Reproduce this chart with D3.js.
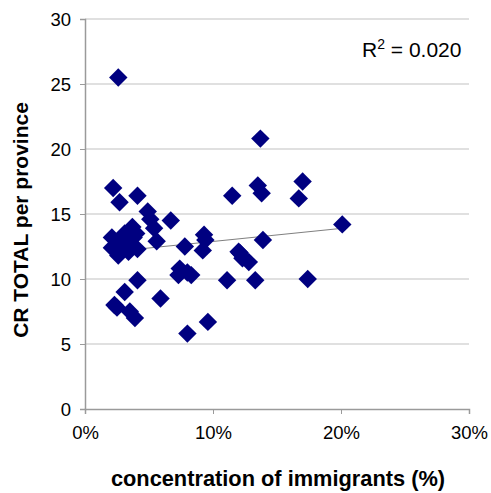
<!DOCTYPE html>
<html>
<head>
<meta charset="utf-8">
<script src="https://cdn.jsdelivr.net/npm/d3@7"></script>
<style>
  body { margin: 0; background: #fff; }
  svg { display: block; font-family: "Liberation Sans", Arial, sans-serif; }
</style>
</head>
<body>
<svg id="chart" width="491" height="493"></svg>
<script>
// immigrants share (%) per province
const immigrants = [
  2.6, 13.7, 17.0, 16.7, 13.5, 13.8, 11.5, 20.1, 13.9, 13.3,
  17.4, 12.0, 12.3, 12.8, 11.1, 2.2, 2.7, 4.1, 4.9, 5.1,
  6.7, 5.4, 5.6, 2.1, 2.1, 2.6, 3.1, 3.7, 3.8, 3.4,
  2.5, 7.8, 9.3, 9.2, 7.4, 7.3, 8.3, 8.0, 4.1, 3.1,
  2.3, 3.5, 3.9, 5.9, 8.0, 9.6, 2.5, 4.0, 3.0, 2.8,
  3.6, 4.1, 9.4, 12.1
];
// CR total per province
const crTotal = [
  25.5, 20.8, 17.5, 16.2, 17.2, 16.6, 16.4, 14.2, 13.0, 9.9,
  10.0, 12.1, 11.6, 11.3, 9.9, 17.0, 15.9, 16.4, 15.2, 14.6,
  14.5, 13.9, 12.9, 13.2, 12.4, 11.8, 13.5, 14.0, 13.2, 12.1,
  12.6, 12.5, 13.4, 12.2, 10.8, 10.3, 10.3, 10.5, 9.9, 9.0,
  8.0, 7.5, 7.0, 8.5, 5.8, 6.7, 7.8, 13.5, 12.8, 12.2,
  12.5, 12.3, 13.0, 12.0
];
const xTicks = [0, 10, 20, 30];
const yTicks = [0, 5, 10, 15, 20, 25, 30];
const trendX = [1.95, 20.1];
const trendY = [12.08, 13.9];
const rSquared = "0.020";

const points = immigrants.map((v, i) => ({ x: v, y: crTotal[i] }));

const svg = d3.select('#chart');
const x = d3.scaleLinear().domain([0, 30]).range([85, 469]);
const y = d3.scaleLinear().domain([0, 30]).range([409, 19]);

// gridlines
svg.append('g')
  .selectAll('line')
  .data(yTicks.filter(d => d > 0))
  .join('line')
  .attr('x1', x(0)).attr('x2', x(30))
  .attr('y1', d => y(d)).attr('y2', d => y(d))
  .attr('stroke', '#d6d6d6')
  .attr('stroke-width', 1.5);

// axes
const yAxis = svg.append('g')
  .attr('transform', `translate(${x(0)},0)`)
  .call(d3.axisLeft(y).tickValues(yTicks).tickSize(5).tickPadding(9).tickFormat(d3.format('d')));
const xAxis = svg.append('g')
  .attr('transform', `translate(0,${y(0)})`)
  .call(d3.axisBottom(x).tickValues(xTicks).tickSize(5).tickPadding(12).tickFormat(d => d + '%'));

[yAxis, xAxis].forEach(a => {
  a.select('.domain').attr('stroke', '#9a9a9a').attr('stroke-width', 1.5);
  a.selectAll('.tick line').attr('stroke', '#9a9a9a');
  a.selectAll('.tick text')
    .attr('fill', '#000')
    .style('font-size', '18.5px')
    .style('font-family', '"Liberation Sans", Arial, sans-serif');
});
yAxis.selectAll('.tick text').attr('dy', '0.36em');

// trend line
svg.append('line')
  .attr('x1', x(trendX[0])).attr('y1', y(trendY[0]))
  .attr('x2', x(trendX[1])).attr('y2', y(trendY[1]))
  .attr('stroke', '#808080')
  .attr('stroke-width', 1);

// markers
const diamond = d3.symbol().type(d3.symbolSquare).size(170);
svg.append('g')
  .selectAll('path')
  .data(points)
  .join('path')
  .attr('d', diamond)
  .attr('transform', d => `translate(${x(d.x)},${y(d.y)}) rotate(45)`)
  .attr('fill', '#000080');

// R² label
const r2 = svg.append('text')
  .attr('x', 362).attr('y', 57)
  .style('font-size', '21px');
r2.append('tspan').text('R');
r2.append('tspan').attr('dy', -8).style('font-size', '14px').text('2');
r2.append('tspan').attr('dy', 8).text(' = ' + rSquared);

// axis titles
svg.append('text')
  .attr('x', 278).attr('y', 486)
  .attr('text-anchor', 'middle')
  .style('font-size', '21.8px')
  .style('font-weight', 'bold')
  .text('concentration of immigrants (%)');

svg.append('text')
  .attr('transform', 'translate(28,220) rotate(-90)')
  .attr('text-anchor', 'middle')
  .style('font-size', '21px')
  .style('font-weight', 'bold')
  .text('CR TOTAL per province');
</script>
</body>
</html>
